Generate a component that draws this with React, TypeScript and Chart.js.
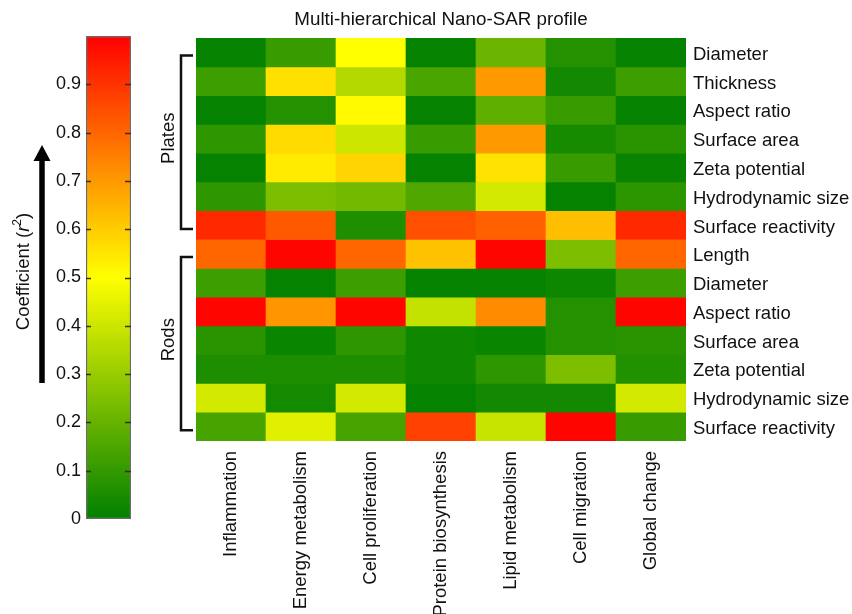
import React, { useEffect, useRef } from "react";
import { Chart, registerables } from "chart.js";

Chart.register(...registerables);

const FONT = "'Liberation Sans', Arial, Helvetica, sans-serif";
const TEXT = "#111111";

const chartTitle = "Multi-hierarchical Nano-SAR profile";

const categories = [
  "Inflammation",
  "Energy metabolism",
  "Cell proliferation",
  "Protein biosynthesis",
  "Lipid metabolism",
  "Cell migration",
  "Global change",
];

const rowLabels = [
  "Diameter",
  "Thickness",
  "Aspect ratio",
  "Surface area",
  "Zeta potential",
  "Hydrodynamic size",
  "Surface reactivity",
  "Length",
  "Diameter",
  "Aspect ratio",
  "Surface area",
  "Zeta potential",
  "Hydrodynamic size",
  "Surface reactivity",
];

// Plates
const platesDiameter = [0.01, 0.11, 0.5, 0.01, 0.21, 0.07, 0.01];
const platesThickness = [0.12, 0.56, 0.35, 0.145, 0.7, 0.035, 0.12];
const platesAspectRatio = [0.01, 0.07, 0.51, 0.01, 0.185, 0.11, 0.01];
const platesSurfaceArea = [0.09, 0.57, 0.4, 0.11, 0.7, 0.045, 0.08];
const platesZetaPotential = [0.01, 0.54, 0.585, 0.01, 0.555, 0.11, 0.015];
const platesHydroSize = [0.09, 0.245, 0.225, 0.155, 0.415, 0.01, 0.085];
const platesSurfaceReactivity = [0.92, 0.825, 0.06, 0.845, 0.81, 0.625, 0.92];
// Rods
const rodsLength = [0.8, 0.99, 0.8, 0.62, 0.99, 0.245, 0.8];
const rodsDiameter = [0.12, 0.01, 0.12, 0.01, 0.01, 0.025, 0.12];
const rodsAspectRatio = [0.99, 0.705, 0.99, 0.385, 0.725, 0.07, 0.99];
const rodsSurfaceArea = [0.08, 0.02, 0.09, 0.03, 0.02, 0.07, 0.08];
const rodsZetaPotential = [0.055, 0.055, 0.055, 0.03, 0.09, 0.245, 0.065];
const rodsHydroSize = [0.415, 0.04, 0.415, 0.01, 0.035, 0.035, 0.415];
const rodsSurfaceReactivity = [0.14, 0.44, 0.14, 0.875, 0.39, 0.99, 0.11];

const heatmapRows = [
  platesDiameter,
  platesThickness,
  platesAspectRatio,
  platesSurfaceArea,
  platesZetaPotential,
  platesHydroSize,
  platesSurfaceReactivity,
  rodsLength,
  rodsDiameter,
  rodsAspectRatio,
  rodsSurfaceArea,
  rodsZetaPotential,
  rodsHydroSize,
  rodsSurfaceReactivity,
];

const groups = [
  { name: "Plates", first: 0, last: 6 },
  { name: "Rods", first: 7, last: 13 },
];

const colorbarTicks = [0, 0.1, 0.2, 0.3, 0.4, 0.5, 0.6, 0.7, 0.8, 0.9];
const colorbarRange = [0, 1];

function colorFor(v: number): string {
  const x = Math.max(0, Math.min(1, v));
  let r: number, g: number;
  if (x <= 0.5) {
    const t = x / 0.5;
    r = 255 * t;
    g = 128 + 127 * t;
  } else {
    const t = (x - 0.5) / 0.5;
    r = 255;
    g = 255 * (1 - t);
  }
  return `rgb(${Math.round(r)},${Math.round(g)},0)`;
}

const bracketPlugin = {
  id: "groupBrackets",
  afterDraw(chart: any) {
    const { ctx } = chart;
    const y = chart.scales.y;
    ctx.save();
    ctx.strokeStyle = "#111";
    ctx.lineWidth = 2.5;
    ctx.lineJoin = "miter";
    groups.forEach((gr) => {
      const top = y.getPixelForValue(gr.first + 0.61);
      const bot = y.getPixelForValue(gr.last + 0.63);
      ctx.beginPath();
      ctx.moveTo(193, top);
      ctx.lineTo(181, top);
      ctx.lineTo(181, bot);
      ctx.lineTo(193, bot);
      ctx.stroke();
      ctx.save();
      ctx.translate(169, (top + bot) / 2 - 4);
      ctx.rotate(-Math.PI / 2);
      ctx.fillStyle = TEXT;
      ctx.font = `18.5px ${FONT}`;
      ctx.textAlign = "center";
      ctx.textBaseline = "middle";
      ctx.fillText(gr.name, 0, 0);
      ctx.restore();
    });
    ctx.restore();
  },
};

const colorbarPlugin = {
  id: "colorbarExtras",
  afterDraw(chart: any) {
    const { ctx, chartArea } = chart;
    const y = chart.scales.y;
    ctx.save();
    // tick marks inside the bar
    ctx.strokeStyle = "#3a2f25";
    ctx.lineWidth = 1.5;
    colorbarTicks.forEach((v) => {
      if (v === 0) return;
      const py = Math.round(y.getPixelForValue(v)) + 0.5;
      ctx.beginPath();
      ctx.moveTo(chartArea.left, py);
      ctx.lineTo(chartArea.left + 5, py);
      ctx.moveTo(chartArea.right - 6, py);
      ctx.lineTo(chartArea.right, py);
      ctx.stroke();
    });
    // arrow
    ctx.strokeStyle = "#000";
    ctx.fillStyle = "#000";
    ctx.lineWidth = 5.5;
    ctx.beginPath();
    ctx.moveTo(42, 383);
    ctx.lineTo(42, 158);
    ctx.stroke();
    ctx.beginPath();
    ctx.moveTo(42, 145);
    ctx.lineTo(33.5, 161);
    ctx.lineTo(50.5, 161);
    ctx.closePath();
    ctx.fill();
    // axis title: Coefficient (r^2)
    ctx.translate(23.5, 271.5);
    ctx.rotate(-Math.PI / 2);
    ctx.fillStyle = TEXT;
    ctx.textBaseline = "middle";
    ctx.textAlign = "left";
    const normal = `18.5px ${FONT}`;
    const italic = `italic 18.5px ${FONT}`;
    const small = `12px ${FONT}`;
    const parts = [
      { t: "Coefficient (", f: normal, dy: 0 },
      { t: "r", f: italic, dy: 0 },
      { t: "2", f: small, dy: -6 },
      { t: ")", f: normal, dy: 0 },
    ];
    let total = 0;
    const widths = parts.map((p) => {
      ctx.font = p.f;
      const w = ctx.measureText(p.t).width;
      total += w;
      return w;
    });
    let x = -total / 2;
    parts.forEach((p, i) => {
      ctx.font = p.f;
      ctx.fillText(p.t, x, p.dy);
      x += widths[i];
    });
    ctx.restore();
  },
};

export default function App() {
  const heatRef = useRef<HTMLCanvasElement>(null);
  const barRef = useRef<HTMLCanvasElement>(null);

  useEffect(() => {
    const heat = new Chart(heatRef.current as HTMLCanvasElement, {
      type: "bar",
      data: {
        labels: categories,
        datasets: heatmapRows.map((row, r) => ({
          label: rowLabels[r],
          data: row.map(() => [r, r + 1]),
          backgroundColor: row.map((v) => colorFor(v)),
          borderWidth: 0,
          grouped: false,
          barPercentage: 1,
          categoryPercentage: 1,
        })) as any,
      },
      options: {
        responsive: false,
        animation: false,
        layout: { padding: { left: 196, top: 0, right: 0, bottom: 0 } },
        plugins: {
          legend: { display: false },
          tooltip: { enabled: false },
          title: {
            display: true,
            text: chartTitle,
            fullSize: false,
            color: TEXT,
            font: { family: FONT, size: 18.8, weight: "normal", lineHeight: 1.2 },
            padding: { top: 8.5, bottom: 7 },
          },
        },
        scales: {
          x: {
            type: "category",
            position: "bottom",
            grid: { display: false, drawTicks: false },
            border: { display: false },
            ticks: {
              minRotation: 90,
              maxRotation: 90,
              autoSkip: false,
              padding: 10,
              color: TEXT,
              font: { family: FONT, size: 18.5 },
            },
            afterFit: (s: any) => {
              s.height = 173;
            },
          },
          y: {
            type: "linear",
            position: "right",
            reverse: true,
            min: 0,
            max: rowLabels.length,
            grid: { display: false, drawTicks: false },
            border: { display: false },
            afterBuildTicks: (s: any) => {
              s.ticks = rowLabels.map((_, i) => ({ value: i + 0.58 }));
            },
            ticks: {
              autoSkip: false,
              padding: 7,
              color: TEXT,
              font: { family: FONT, size: 18.5 },
              callback: (_v: any, i: number) => rowLabels[i],
            },
            afterFit: (s: any) => {
              s.width = 166;
            },
          },
        },
      } as any,
      plugins: [bracketPlugin],
    });

    const cb = new Chart(barRef.current as HTMLCanvasElement, {
      type: "bar",
      data: {
        labels: [""],
        datasets: [
          {
            data: [colorbarRange as any],
            backgroundColor: (c: any) => {
              const chart = c.chart;
              if (!chart.chartArea) return colorFor(0.5);
              const ys = chart.scales.y;
              const g = chart.ctx.createLinearGradient(
                0,
                ys.getPixelForValue(0),
                0,
                ys.getPixelForValue(1)
              );
              g.addColorStop(0, colorFor(0));
              g.addColorStop(0.5, colorFor(0.5));
              g.addColorStop(1, colorFor(1));
              return g;
            },
            borderColor: "#6b6b6b",
            borderWidth: 1.5,
            borderSkipped: false,
            barPercentage: 1,
            categoryPercentage: 1,
          } as any,
        ],
      },
      options: {
        responsive: false,
        animation: false,
        layout: { padding: { left: 0, top: 36, right: 9, bottom: 95 } },
        plugins: { legend: { display: false }, tooltip: { enabled: false } },
        scales: {
          x: { display: false },
          y: {
            type: "linear",
            position: "left",
            min: colorbarRange[0],
            max: colorbarRange[1],
            grid: { display: false, drawTicks: false },
            border: { display: false },
            afterBuildTicks: (s: any) => {
              s.ticks = colorbarTicks.map((v) => ({ value: v }));
            },
            ticks: {
              autoSkip: false,
              padding: 5,
              color: TEXT,
              font: { family: FONT, size: 18 },
              callback: (v: any) => String(v),
            },
            afterFit: (s: any) => {
              s.width = 86;
            },
          },
        },
      } as any,
      plugins: [colorbarPlugin],
    });

    return () => {
      heat.destroy();
      cb.destroy();
    };
  }, []);

  return (
    <div
      style={{
        position: "absolute",
        left: 0,
        top: 0,
        width: 852,
        height: 614,
        background: "#ffffff",
        overflow: "hidden",
      }}
    >
      <canvas
        ref={heatRef}
        width={852}
        height={614}
        style={{ position: "absolute", left: 0, top: 0, width: 852, height: 614 }}
      />
      <canvas
        ref={barRef}
        width={140}
        height={614}
        style={{ position: "absolute", left: 0, top: 0, width: 140, height: 614 }}
      />
    </div>
  );
}
